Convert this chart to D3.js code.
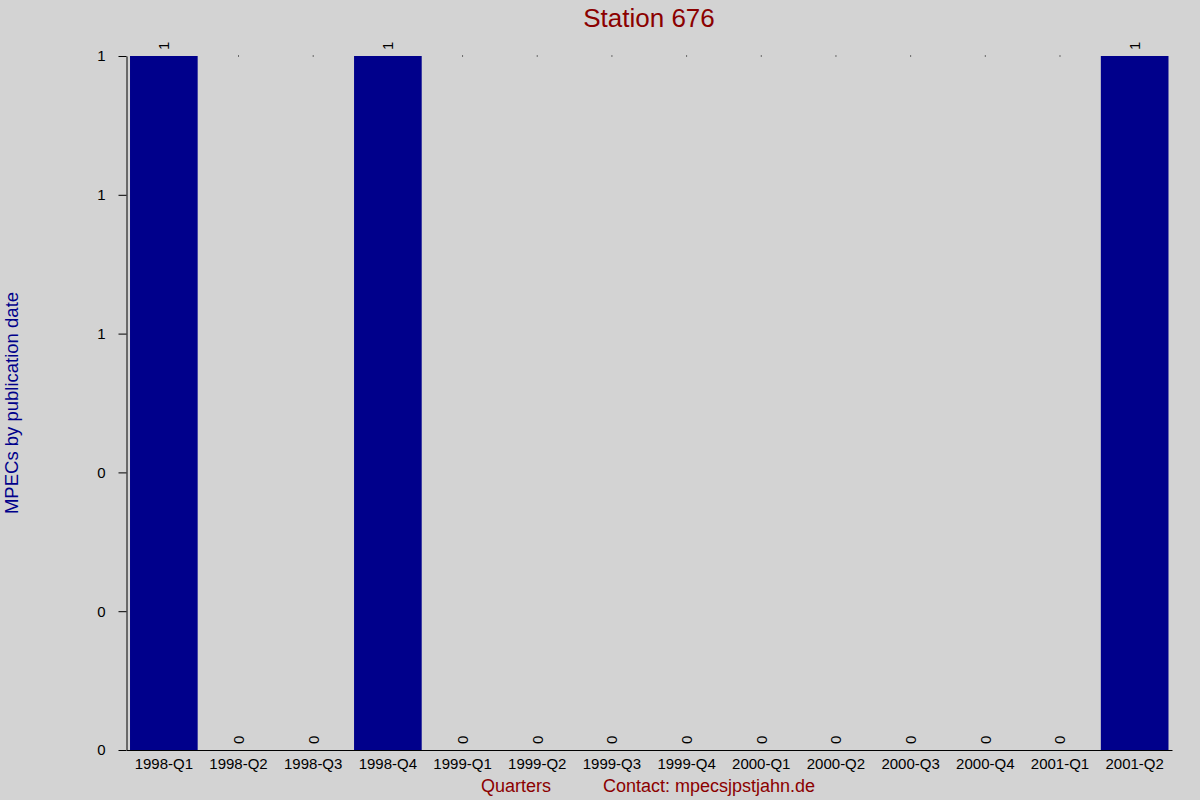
<!DOCTYPE html>
<html><head><meta charset="utf-8">
<script src="https://cdn.jsdelivr.net/npm/d3@7"></script>
<style>body{margin:0;background:#d3d3d3;} svg{display:block;font-family:"Liberation Sans",Arial,sans-serif;}</style>
</head><body>
<script>
const categories = ["1998-Q1","1998-Q2","1998-Q3","1998-Q4","1999-Q1","1999-Q2","1999-Q3","1999-Q4","2000-Q1","2000-Q2","2000-Q3","2000-Q4","2001-Q1","2001-Q2"];
const values = [1,0,0,1,0,0,0,0,0,0,0,0,0,1];
const yTicks = [0,0.2,0.4,0.6,0.8,1];
const titleText = "Station 676";
const yLabel = "MPECs by publication date";
const xLabel = "Quarters";
const contactText = "Contact: mpecsjpstjahn.de";

const FONT = "Liberation Sans, Arial, sans-serif";
const W=1200,H=800;
const svg=d3.select("body").append("svg").attr("width",W).attr("height",H);
svg.append("rect").attr("width",W).attr("height",H).attr("fill","#d3d3d3");

const x=d3.scaleBand().domain(categories).range([126.5,1172]).paddingInner(0.094).paddingOuter(0.047);
const y=d3.scaleLinear().domain([0,1]).range([750,56]);

// bars
svg.append("g").selectAll("rect").data(values).join("rect")
  .attr("x",(d,i)=>x(categories[i]))
  .attr("width",x.bandwidth())
  .attr("y",d=>y(d))
  .attr("height",d=>y(0)-y(d))
  .attr("fill","#00008b");

// tiny dots at top for zero bars
svg.append("g").selectAll("rect").data(values.map((v,i)=>({v,i})).filter(d=>d.v===0)).join("rect")
  .attr("x",d=>x(categories[d.i])+x.bandwidth()/2-0.5)
  .attr("y",y(1)-0.5).attr("width",1).attr("height",1).attr("fill","#000");

// value labels
svg.append("g").selectAll("text").data(values).join("text")
  .attr("transform",(d,i)=>`translate(${x(categories[i])+x.bandwidth()/2+5.5},${y(d)-6}) rotate(-90)`)
  .attr("text-anchor","start")
  .style("font-size","15px").style("font-family",FONT).attr("fill","#000")
  .text(d=>d3.format(".0f")(d));

// y axis
const yAxis=svg.append("g").attr("transform","translate(126.5,0)")
  .call(d3.axisLeft(y).tickValues(yTicks).tickFormat(d3.format(".0f")).tickSize(8).tickSizeOuter(0).tickPadding(13));
yAxis.attr("font-size",null).attr("font-family",null);
yAxis.select(".domain").attr("stroke","#000");
yAxis.selectAll("text").style("font-size","15px").style("font-family",FONT).attr("fill","#000");

// x axis
const xAxis=svg.append("g").attr("transform","translate(0,750)")
  .call(d3.axisBottom(x).tickSize(0).tickSizeOuter(0).tickPadding(8));
xAxis.attr("font-size",null).attr("font-family",null);
xAxis.select(".domain").attr("stroke","#000");
xAxis.selectAll("text").style("font-size","15px").style("font-family",FONT).attr("fill","#000");

// title
svg.append("text").attr("x",649).attr("y",27).attr("text-anchor","middle")
  .style("font-size","26px").style("font-family",FONT).attr("fill","#8b0000").text(titleText);

// y label
svg.append("text").attr("transform","translate(18,403) rotate(-90)").attr("text-anchor","middle")
  .style("font-size","18.5px").style("font-family",FONT).attr("fill","#00008b").text(yLabel);

// x labels
svg.append("text").attr("x",481).attr("y",792).style("font-size","18px").style("font-family",FONT).attr("fill","#8b0000").text(xLabel);
svg.append("text").attr("x",603).attr("y",792).style("font-size","18px").style("font-family",FONT).attr("fill","#8b0000").text(contactText);
</script>
</body></html>
